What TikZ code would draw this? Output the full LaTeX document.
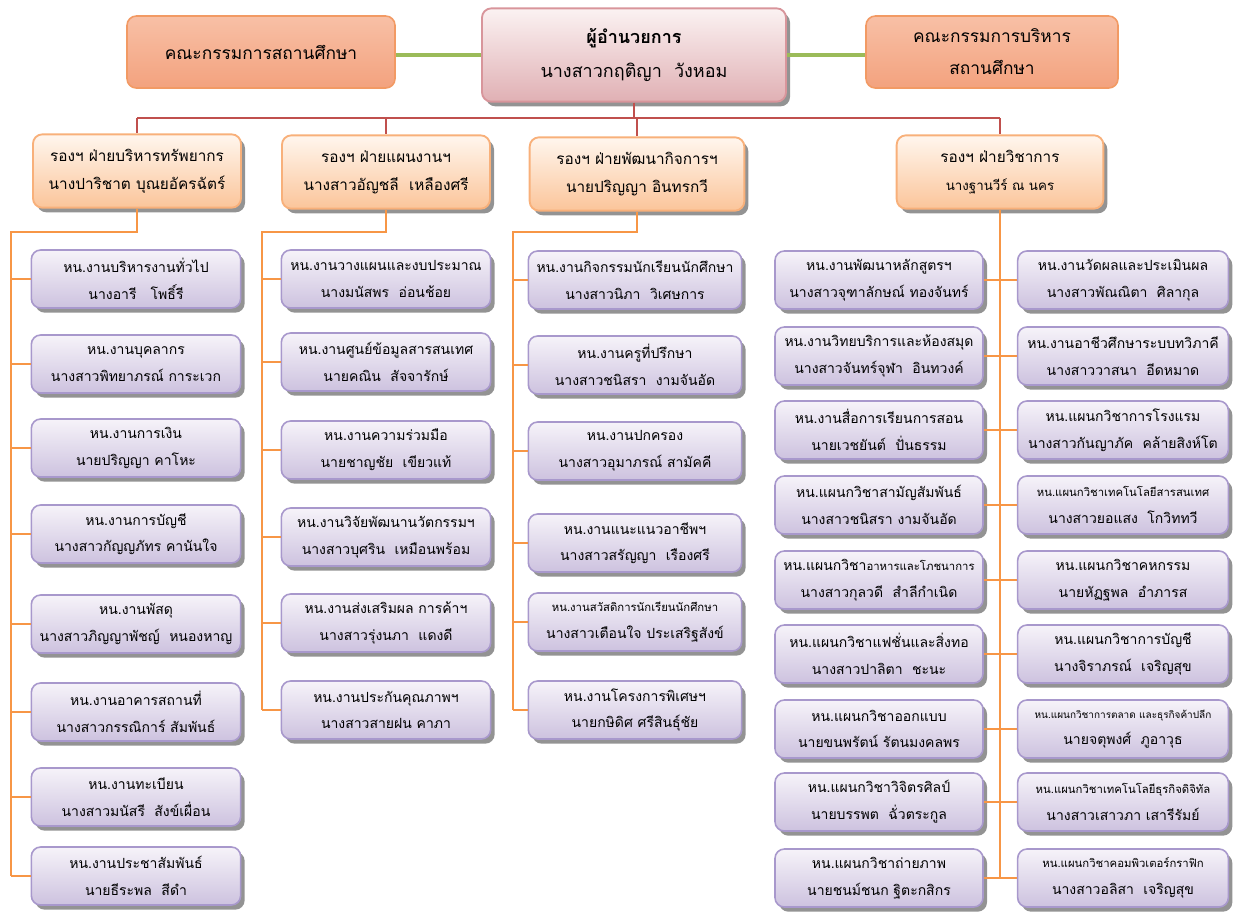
\documentclass[tikz,border=0pt]{standalone}
\usepackage{fontspec}
\newfontfamily\thai[Script=Thai]{Loma}
\usetikzlibrary{shadows}
\definecolor{utop}{HTML}{F6F3F9}
\definecolor{ubot}{HTML}{CDC2DF}
\definecolor{uborder}{HTML}{A898CC}
\definecolor{vtop}{HTML}{FFF6EE}
\definecolor{vbot}{HTML}{FBC59A}
\definecolor{vborder}{HTML}{F8B07A}
\definecolor{dtop}{HTML}{FBF2F2}
\definecolor{dbot}{HTML}{E0B0B4}
\definecolor{dborder}{HTML}{D8959B}
\definecolor{stop}{HTML}{F8C0A6}
\definecolor{sbot}{HTML}{F3A27E}
\definecolor{sborder}{HTML}{F29A64}
\definecolor{redline}{HTML}{C0504D}
\definecolor{orline}{HTML}{F79646}
\definecolor{grline}{HTML}{9BBB59}
\newcommand{\usz}{\fontsize{10.5}{20}\selectfont}
\newcommand{\ssz}{\fontsize{8.5}{20}\selectfont}
\newcommand{\xsz}{\fontsize{7.5}{20}\selectfont}
\begin{document}
\begin{tikzpicture}[x=0.75pt,y=-0.75pt,
  box/.style={rounded corners=7pt, align=center, inner sep=0pt, text=black},
  shad/.style={drop shadow={shadow xshift=3pt, shadow yshift=-3.5pt, fill=black!50, opacity=.85}},
  unit/.style={box, shad, draw=uborder, line width=1.2pt, top color=utop, bottom color=ubot,
    minimum width=157pt, minimum height=43.5pt, font=\thai\usz},
  vice/.style={box, shad, draw=vborder, line width=1.4pt, top color=vtop, bottom color=vbot,
    minimum width=156pt, minimum height=55pt, font=\thai\fontsize{11.5}{21}\selectfont},
  side/.style={box, draw=sborder, line width=1.2pt, top color=stop, bottom color=sbot,
    minimum height=54pt, font=\thai\fontsize{13}{24}\selectfont},
  boss/.style={box, shad, draw=dborder, line width=1.4pt, top color=dtop, bottom color=dbot,
    minimum width=228pt, minimum height=70pt, font=\thai\fontsize{13.5}{25}\selectfont},
  rline/.style={draw=redline, line width=1.8pt},
  oline/.style={draw=orline, line width=2.2pt},
  gline/.style={draw=grline, line width=2.5pt}]
\useasboundingbox (0,0) rectangle (1236,915);

% top
\node[boss] (dir) at (634,55) {{\bfseries ผู้อำนวยการ}\\นางสาวกฤติญา\ \ วังหอม};
\node[side, minimum width=201pt] (sc) at (261,52) {คณะกรรมการสถานศึกษา};
\node[side, minimum width=189pt] (ec) at (992,52) {คณะกรรมการบริหาร\\สถานศึกษา};
\draw[gline] (dir.west) -- (dir.west -| sc.east);
\draw[gline] (dir.east) -- (dir.east -| ec.west);

% vice
\node[vice] (v1) at (137,171) {รองฯ ฝ่ายบริหารทรัพยากร\\นางปาริชาต บุณยอัครฉัตร์};
\node[vice] (v2) at (386,172) {รองฯ ฝ่ายแผนงานฯ\\นางสาวอัญชลี\ \ เหลืองศรี};
\node[vice, minimum width=161pt] (v3) at (637,174) {รองฯ ฝ่ายพัฒนากิจการฯ\\นายปริญญา อินทรกวี};
\node[vice, minimum width=155pt] (v4) at (1000,172) {รองฯ ฝ่ายวิชาการ\\{\fontsize{10}{20}\selectfont นางฐานวีร์ ณ นคร}};
\coordinate (rb) at (636,118);
\draw[rline] (dir.south) -- (dir.south |- rb);
\draw[rline] (v1.north |- rb) -- (v4.north |- rb);
\foreach \v in {v1,v2,v3,v4} \draw[rline] (\v.north |- rb) -- (\v.north);

% column 1
\node[unit] (a1) at (136,279) {หน.งานบริหารงานทั่วไป\\นางอารี\ \ \ โพธิ์รี};
\node[unit] (a2) at (136,364) {หน.งานบุคลากร\\นางสาวพิทยาภรณ์ การะเวก};
\node[unit] (a3) at (136,448) {หน.งานการเงิน\\นายปริญญา คาโหะ};
\node[unit] (a4) at (136,534) {หน.งานการบัญชี\\นางสาวกัญญภัทร คานันใจ};
\node[unit] (a5) at (136,624) {หน.งานพัสดุ\\นางสาวภิญญาพัชญ์\ \ หนองหาญ};
\node[unit] (a6) at (136,712) {หน.งานอาคารสถานที่\\นางสาวกรรณิการ์ สัมพันธ์};
\node[unit] (a7) at (136,797) {หน.งานทะเบียน\\นางสาวมนัสรี\ \ สังข์เผื่อน};
\node[unit] (a8) at (136,876) {หน.งานประชาสัมพันธ์\\นายธีระพล\ \ สีดำ};
\coordinate (t1) at (11,232);
\draw[oline] (v1.south) |- (t1) -- (t1 |- a8.west);
\foreach \i in {1,...,8} \draw[oline] (t1 |- a\i.west) -- (a\i.west);

% column 2
\node[unit] (b1) at (386,279) {หน.งานวางแผนและงบประมาณ\\นางมนัสพร\ \ อ่อนช้อย};
\node[unit] (b2) at (386,362) {หน.งานศูนย์ข้อมูลสารสนเทศ\\นายคณิน\ \ สัจจารักษ์};
\node[unit] (b3) at (386,450) {หน.งานความร่วมมือ\\นายชาญชัย\ \ เขียวแท้};
\node[unit] (b4) at (386,537) {หน.งานวิจัยพัฒนานวัตกรรมฯ\\นางสาวบุศริน\ \ เหมือนพร้อม};
\node[unit] (b5) at (386,623) {หน.งานส่งเสริมผล การค้าฯ\\นางสาวรุ่งนภา\ \ แดงดี};
\node[unit] (b6) at (386,710) {หน.งานประกันคุณภาพฯ\\นางสาวสายฝน คาภา};
\coordinate (t2) at (262,232);
\draw[oline] (v2.south) |- (t2) -- (t2 |- b6.west);
\foreach \i in {1,...,6} \draw[oline] (t2 |- b\i.west) -- (b\i.west);

% column 3
\node[unit, minimum width=160pt] (c1) at (635,280) {หน.งานกิจกรรมนักเรียนนักศึกษา\\นางสาวนิภา\ \ วิเศษการ};
\node[unit, minimum width=160pt] (c2) at (635,365) {หน.งานครูที่ปรึกษา\\นางสาวชนิสรา\ \ งามจันอัด};
\node[unit, minimum width=160pt] (c3) at (635,451) {หน.งานปกครอง\\นางสาวอุมาภรณ์ สามัคคี};
\node[unit, minimum width=160pt] (c4) at (635,543) {หน.งานแนะแนวอาชีพฯ\\นางสาวสรัญญา\ \ เรืองศรี};
\node[unit, minimum width=160pt] (c5) at (635,622) {{\ssz หน.งานสวัสดิการนักเรียนนักศึกษา}\\นางสาวเตือนใจ ประเสริฐสังข์};
\node[unit, minimum width=160pt] (c6) at (635,710) {หน.งานโครงการพิเศษฯ\\นายกษิดิศ ศรีสินธุ์ชัย};
\coordinate (t3) at (513,232);
\draw[oline] (v3.south) |- (t3) -- (t3 |- c6.west);
\foreach \i in {1,...,6} \draw[oline] (t3 |- c\i.west) -- (c\i.west);

% column 4 left
\node[unit, minimum width=156pt] (l1) at (879,280) {หน.งานพัฒนาหลักสูตรฯ\\นางสาวจุฑาลักษณ์ ทองจันทร์};
\node[unit, minimum width=156pt] (l2) at (879,356) {หน.งานวิทยบริการและห้องสมุด\\นางสาวจันทร์จุฬา\ \ อินทวงค์};
\node[unit, minimum width=156pt] (l3) at (879,430) {หน.งานสื่อการเรียนการสอน\\นายเวชยันต์\ \ ปั่นธรรม};
\node[unit, minimum width=156pt] (l4) at (879,505) {หน.แผนกวิชาสามัญสัมพันธ์\\นางสาวชนิสรา งามจันอัด};
\node[unit, minimum width=156pt] (l5) at (879,580) {หน.แผนกวิชา{\ssz อาหารและโภชนาการ}\\นางสาวกุลวดี\ \ สำลีกำเนิด};
\node[unit, minimum width=156pt] (l6) at (879,654) {หน.แผนกวิชาแฟชั่นและสิ่งทอ\\นางสาวปาลิตา\ \ ชะนะ};
\node[unit, minimum width=156pt] (l7) at (879,729) {หน.แผนกวิชาออกแบบ\\นายขนพรัตน์ รัตนมงคลพร};
\node[unit, minimum width=156pt] (l8) at (879,802) {หน.แผนกวิชาวิจิตรศิลป์\\นายบรรพต\ \ ฉั่วตระกูล};
\node[unit, minimum width=156pt] (l9) at (879,878) {หน.แผนกวิชาถ่ายภาพ\\นายชนม์ชนก ฐิตะกสิกร};

% column 4 right
\node[unit, minimum width=158pt] (r1) at (1123,280) {หน.งานวัดผลและประเมินผล\\นางสาวพัณณิตา\ \ ศิลากุล};
\node[unit, minimum width=158pt] (r2) at (1123,356) {หน.งานอาชีวศึกษาระบบทวิภาคี\\นางสาววาสนา\ \ อีดหมาด};
\node[unit, minimum width=158pt] (r3) at (1123,430) {หน.แผนกวิชาการโรงแรม\\นางสาวกันญาภัค\ \ คล้ายสิงห์โต};
\node[unit, minimum width=158pt] (r4) at (1123,505) {{\ssz หน.แผนกวิชาเทคโนโลยีสารสนเทศ}\\นางสาวยอแสง\ \ โกวิททวี};
\node[unit, minimum width=158pt] (r5) at (1123,580) {หน.แผนกวิชาคหกรรม\\นายหัฏฐพล\ \ อำภารส};
\node[unit, minimum width=158pt] (r6) at (1123,654) {หน.แผนกวิชาการบัญชี\\นางจิราภรณ์\ \ เจริญสุข};
\node[unit, minimum width=158pt] (r7) at (1123,729) {{\xsz หน.แผนกวิชาการตลาด และธุรกิจค้าปลีก}\\นายจตุพงศ์\ \ ภูอาวุธ};
\node[unit, minimum width=158pt] (r8) at (1123,802) {{\ssz หน.แผนกวิชาเทคโนโลยีธุรกิจดิจิทัล}\\นางสาวเสาวภา เสารีรัมย์};
\node[unit, minimum width=158pt] (r9) at (1123,878) {{\ssz หน.แผนกวิชาคอมพิวเตอร์กราฟิก}\\นางสาวอลิสา\ \ เจริญสุข};

\draw[oline] (v4.south) -- (v4.south |- l9.east);
\foreach \i in {1,...,9} \draw[oline] (l\i.east) -- (r\i.west);
\end{tikzpicture}
\end{document}
